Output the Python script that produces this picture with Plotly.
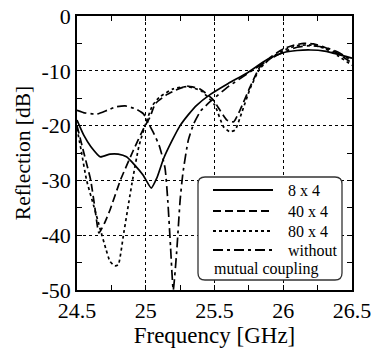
import plotly.graph_objects as go

# ---- data ----
freq_8x4 = [24.5, 24.55, 24.6, 24.67, 24.74, 24.8, 24.86, 24.92, 24.98, 25.04, 25.08, 25.13,
            25.19, 25.25, 25.31, 25.37, 25.47, 25.6, 25.73, 25.88, 26.0, 26.1, 26.2, 26.3, 26.4, 26.5]
refl_8x4 = [-19.0, -21.8, -23.8, -25.7, -25.2, -25.2, -25.7, -27.2, -29.0, -31.4, -29.6, -26.0,
            -22.8, -20.0, -18.0, -16.3, -14.3, -12.3, -10.5, -8.0, -6.7, -6.3, -6.2, -6.4, -7.0, -7.7]

freq_40x4 = [24.5, 24.55, 24.6, 24.63, 24.66, 24.7, 24.74, 24.815, 24.91, 24.985, 25.03, 25.07,
             25.15, 25.22, 25.3, 25.4, 25.49, 25.54, 25.59, 25.64, 25.685, 25.76, 25.83, 25.92,
             26.0, 26.08, 26.15, 26.22, 26.3, 26.4, 26.5]
refl_40x4 = [-20.0, -25.0, -30.0, -35.0, -39.6, -37.8, -35.4, -30.0, -24.5, -20.5, -18.5, -16.0,
             -14.4, -13.5, -12.8, -13.4, -15.3, -17.2, -19.0, -19.3, -17.2, -12.9, -9.3, -7.3,
             -6.0, -5.3, -5.0, -5.1, -5.7, -6.9, -8.6]

freq_80x4 = [24.5, 24.53, 24.57, 24.62, 24.67, 24.71, 24.74, 24.775, 24.8, 24.84, 24.9, 24.95,
             25.0, 25.05, 25.1, 25.2, 25.3, 25.4, 25.5, 25.565, 25.61, 25.65, 25.7, 25.76, 25.83,
             25.92, 26.0, 26.1, 26.2, 26.3, 26.4, 26.5]
refl_80x4 = [-20.5, -24.5, -30.0, -34.5, -39.0, -42.5, -44.8, -45.6, -45.4, -39.6, -30.5, -23.8,
             -19.6, -16.3, -14.8, -13.3, -12.9, -13.6, -16.2, -20.2, -21.1, -20.8, -17.5, -13.2,
             -9.6, -7.5, -6.3, -5.4, -5.3, -5.9, -7.3, -9.0]

freq_without = [24.5, 24.56, 24.645, 24.72, 24.78, 24.85, 24.93, 24.985, 25.02, 25.06, 25.1, 25.14,
                25.16, 25.18, 25.2, 25.225, 25.25, 25.27, 25.31, 25.35, 25.4, 25.47, 25.6, 25.73,
                25.88, 26.0, 26.1, 26.2, 26.3, 26.4, 26.5]
refl_without = [-17.2, -17.7, -17.9, -17.2, -16.6, -16.4, -17.0, -17.9, -19.6, -21.5, -23.8, -27.7,
                -33.6, -42.0, -50.0, -43.0, -33.6, -28.7, -22.6, -19.6, -17.3, -15.6, -12.9, -10.7,
                -8.2, -6.6, -5.7, -5.4, -5.7, -6.6, -8.2]

x_ticks = [24.5, 25, 25.5, 26, 26.5]
x_ticktext = ["24.5", "25", "25.5", "26", "26.5"]
y_ticks = [0, -10, -20, -30, -40, -50]
y_ticktext = ["0", "-10", "-20", "-30", "-40", "-50"]

series_names = ["8 x 4", "40 x 4", "80 x 4", "without"]
series_dash = ["solid", "8px,4px", "3px,3px", "10px,4px,3px,4px"]

FONT = "Liberation Serif, Times New Roman, Times, serif"
W, H = 372, 360
L, R, T, B = 77, 20, 16, 70
PW, PH = W - L - R, H - T - B


def px(x):
    """page pixel x -> paper fraction"""
    return (x - L) / PW


def py(y):
    """page pixel y -> paper fraction"""
    return (H - B - y) / PH


fig = go.Figure()
data = [(freq_8x4, refl_8x4), (freq_40x4, refl_40x4), (freq_80x4, refl_80x4),
        (freq_without, refl_without)]
for (fx, fy), name, dash in zip(data, series_names, series_dash):
    fig.add_trace(go.Scatter(x=fx, y=fy, mode="lines", name=name,
                             line=dict(color="black", width=1.7, dash=dash,
                                       shape="spline", smoothing=0.5),
                             showlegend=False, cliponaxis=True))

# manual legend (rounded box)
x0, x1, y0, y1, r = 198, 342, 177, 280, 7
rx, ry = r / PW, r / PH
path = (f"M {px(x0)+rx},{py(y0)} L {px(x1)-rx},{py(y0)} Q {px(x1)},{py(y0)} {px(x1)},{py(y0)-ry} "
        f"L {px(x1)},{py(y1)+ry} Q {px(x1)},{py(y1)} {px(x1)-rx},{py(y1)} "
        f"L {px(x0)+rx},{py(y1)} Q {px(x0)},{py(y1)} {px(x0)},{py(y1)+ry} "
        f"L {px(x0)},{py(y0)-ry} Q {px(x0)},{py(y0)} {px(x0)+rx},{py(y0)} Z")
shapes = [dict(type="path", xref="paper", yref="paper", path=path,
               fillcolor="white", line=dict(color="#333333", width=1.3), layer="above")]
annotations = []
rows = [190, 211, 231, 250]
for yy, name, dash in zip(rows, series_names, series_dash):
    shapes.append(dict(type="line", xref="paper", yref="paper", x0=px(213), x1=px(273),
                       y0=py(yy), y1=py(yy), line=dict(color="black", width=2.2, dash=dash),
                       layer="above"))
    annotations.append(dict(x=px(286), y=py(yy), xref="paper", yref="paper", text=name,
                            showarrow=False, xanchor="left", yanchor="middle",
                            font=dict(family=FONT, size=16, color="black")))
annotations.append(dict(x=px(212), y=py(269), xref="paper", yref="paper", text="mutual coupling",
                        showarrow=False, xanchor="left", yanchor="middle",
                        font=dict(family=FONT, size=16, color="black")))

axis_common = dict(showline=True, linecolor="black", linewidth=1.5, mirror="ticks",
                   ticks="inside", ticklen=5, tickwidth=1, tickcolor="black",
                   showgrid=True, gridcolor="black", griddash="dot", gridwidth=1,
                   zeroline=False, automargin=False, ticklabeloverflow="allow",
                   tickfont=dict(family=FONT, size=22, color="black"))

fig.update_layout(
    width=W, height=H, margin=dict(l=L, r=R, t=T, b=B),
    paper_bgcolor="white", plot_bgcolor="white",
    font=dict(family=FONT, color="black"),
    shapes=shapes, annotations=annotations,
    xaxis=dict(range=[24.5, 26.5], tickvals=x_ticks, ticktext=x_ticktext,
               minor=dict(dtick=0.25, tick0=24.5, ticks="inside", ticklen=5,
                          tickcolor="black", showgrid=False),
               title=dict(text="Frequency [GHz]", font=dict(family=FONT, size=23), standoff=3),
               **axis_common),
    yaxis=dict(range=[-50, 0], tickvals=y_ticks, ticktext=y_ticktext,
               minor=dict(dtick=5, tick0=0, ticks="inside", ticklen=5,
                          tickcolor="black", showgrid=False),
               title=dict(text="Reflection [dB]", font=dict(family=FONT, size=21.5), standoff=5),
               **axis_common),
)

fig.write_html("out.html", config={"displayModeBar": False},
               post_script="document.body.style.margin='0px';document.body.style.overflow='hidden';")
